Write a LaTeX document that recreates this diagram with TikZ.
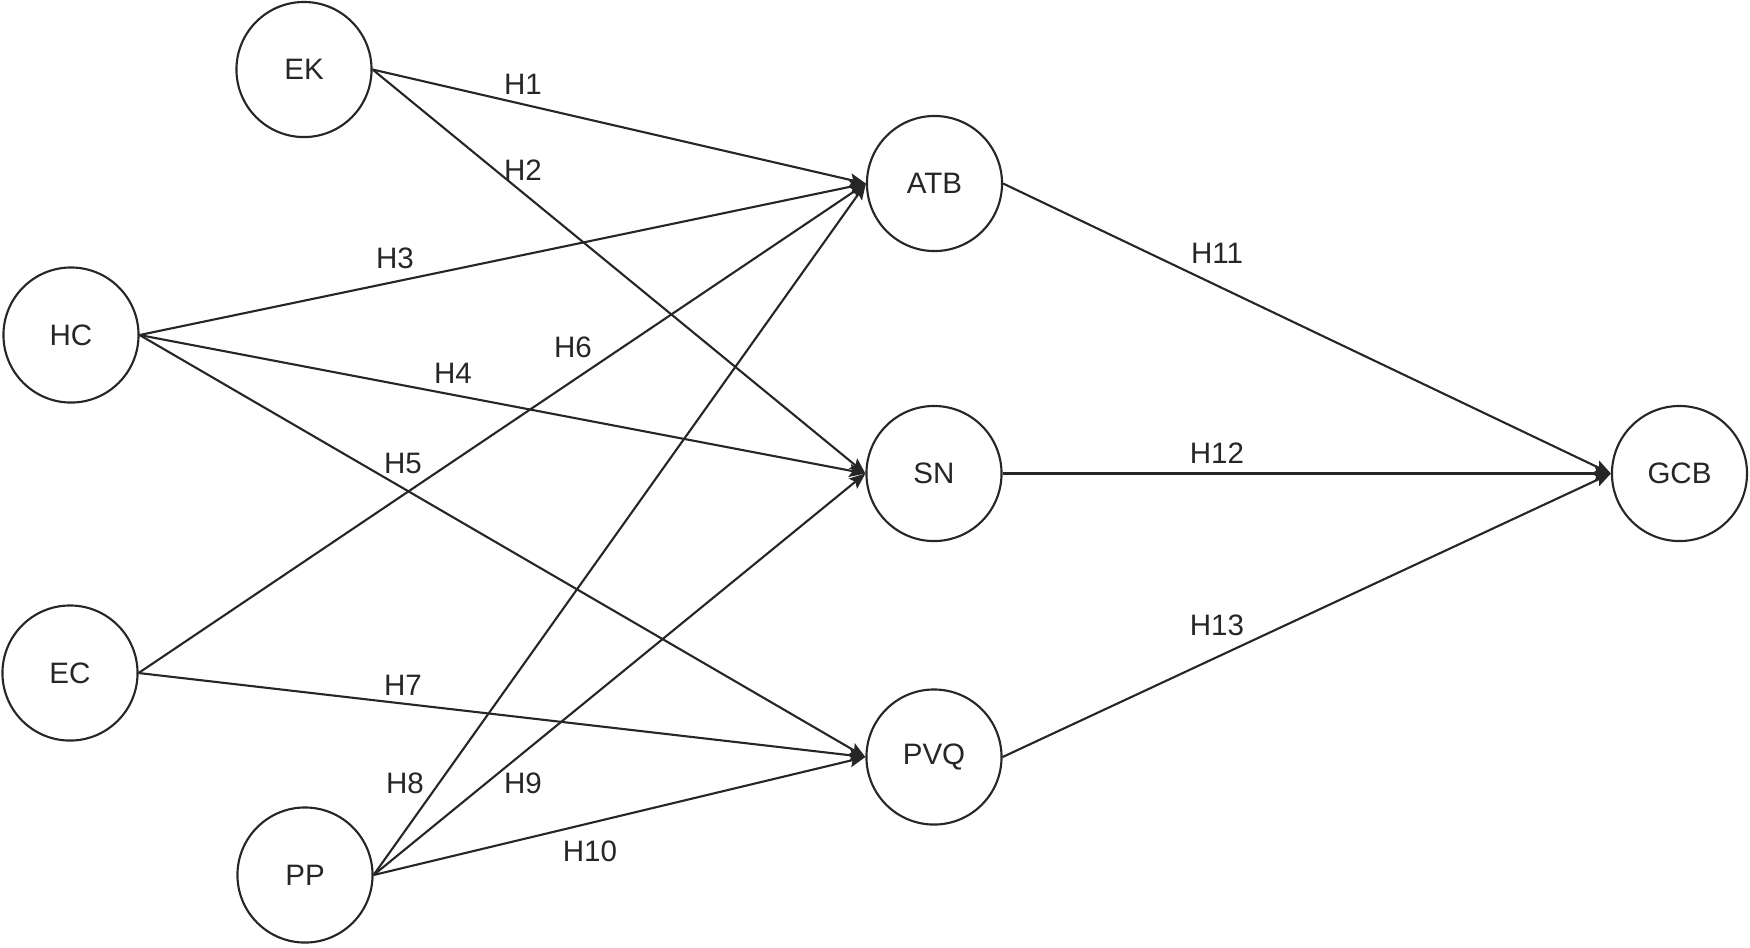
\documentclass[tikz,border=0pt]{standalone}
\usepackage{fontspec}
\setmainfont{Liberation Sans}
\usetikzlibrary{arrows.meta}
\begin{document}
\begin{tikzpicture}[
  x=0.01cm,y=-0.01cm,
  every node/.style={font=\fontsize{8.4}{10}\selectfont, text=black!85},
  construct/.style={circle,draw=black!85,line width=0.6pt,minimum size=1.35cm,inner sep=0pt},
  path/.style={draw=black!85,line width=0.6pt,-{Stealth[length=0.16cm,width=0.13cm,inset=0.03cm]}},
  hyp/.style={inner sep=1pt}
]
\useasboundingbox (0,0) rectangle (1750,947);
\node[construct] (EK) at (304,69.5) {EK};
\node[construct] (HC) at (71,335) {HC};
\node[construct] (EC) at (70,673) {EC};
\node[construct] (PP) at (305,875) {PP};
\node[construct] (ATB) at (934.5,183.5) {ATB};
\node[construct] (SN) at (934,473.5) {SN};
\node[construct] (PVQ) at (934,757) {PVQ};
\node[construct] (GCB) at (1679.5,473.5) {GCB};

\draw[path] (EK.east) -- (ATB.west);
\draw[path] (EK.east) -- (SN.west);
\draw[path] (HC.east) -- (ATB.west);
\draw[path] (HC.east) -- (SN.west);
\draw[path] (HC.east) -- (PVQ.west);
\draw[path] (EC.east) -- (ATB.west);
\draw[path] (EC.east) -- (PVQ.west);
\draw[path] (PP.east) -- (ATB.west);
\draw[path] (PP.east) -- (SN.west);
\draw[path] (PP.east) -- (PVQ.west);
\draw[path] (ATB.east) -- (GCB.west);
\draw[path] (SN.east) -- (GCB.west);
\draw[path] (PVQ.east) -- (GCB.west);

\node[hyp] (h1) at (523,84) {H1};
\node[hyp] (h2) at (523,170) {H2};
\node[hyp] (h3) at (395,258) {H3};
\node[hyp] (h4) at (453,373) {H4};
\node[hyp] (h5) at (403,463) {H5};
\node[hyp] (h6) at (573,347) {H6};
\node[hyp] (h7) at (403,685) {H7};
\node[hyp] (h8) at (405,783) {H8};
\node[hyp] (h9) at (523,783) {H9};
\node[hyp] (h10) at (590,851) {H10};
\node[hyp] (h11) at (1217,253) {H11};
\node[hyp] (h12) at (1217,453) {H12};
\node[hyp] (h13) at (1217,625) {H13};
\end{tikzpicture}
\end{document}
